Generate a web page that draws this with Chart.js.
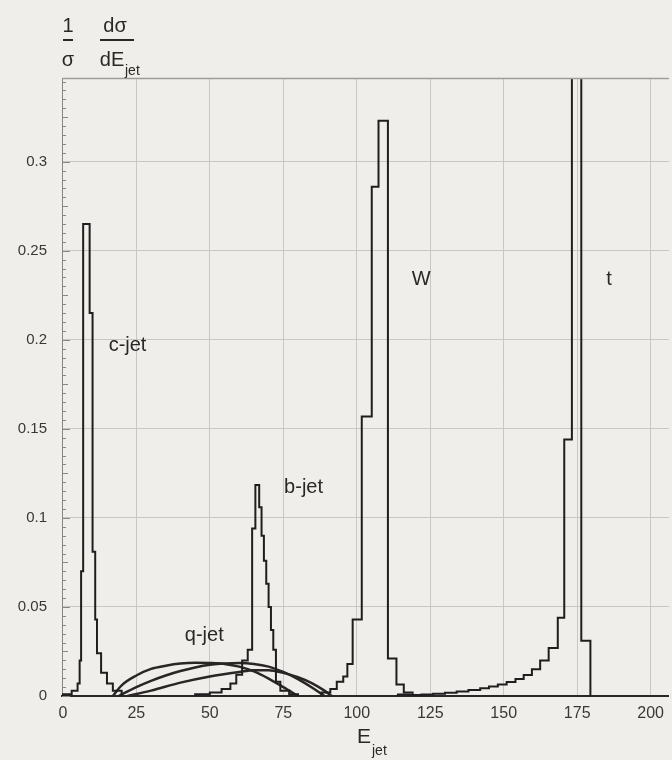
<!DOCTYPE html>
<html>
<head>
<meta charset="utf-8">
<script src="https://cdn.jsdelivr.net/npm/chart.js@4/dist/chart.umd.min.js"></script>
<style>
  body { margin: 0; background: #f0eeeb; }
  canvas { display: block; }
</style>
</head>
<body>
<canvas id="chart" width="672" height="760"></canvas>
<script>
// histogram bins: left edges (last entry closes the last bin) and heights
const cEdges = [0, 3, 5.0, 5.7, 6.2, 6.9, 9.1, 10.1, 11.0, 11.6, 13.0, 15.0, 17.0, 20.0];
const cVals  = [0.001, 0.003, 0.007, 0.020, 0.070, 0.265, 0.215, 0.081, 0.043, 0.024, 0.013, 0.007, 0.003];

const bEdges = [45, 50, 54, 57, 59, 61, 62.9, 64.4, 65.5, 66.8, 67.6, 68.4, 69.2, 70.0, 70.8, 71.6, 72.5, 74, 77, 80];
const bVals  = [0.001, 0.002, 0.004, 0.007, 0.012, 0.020, 0.026, 0.094, 0.1185, 0.106, 0.090, 0.076, 0.063, 0.050, 0.037, 0.026, 0.008, 0.003, 0.001];

const wEdges = [88, 91, 93.2, 95.4, 96.8, 98.6, 101.7, 105.1, 107.4, 110.6, 113.5, 116, 119];
const wVals  = [0.002, 0.004, 0.008, 0.011, 0.018, 0.043, 0.157, 0.286, 0.323, 0.021, 0.0065, 0.002];

const tEdges = [114, 118, 122, 126, 130, 134, 138, 142, 145, 148, 151, 154, 156.8, 159.6, 162.4, 165.3, 168.4, 170.6, 173.2, 176.4, 179.5];
const tVals  = [0.0008, 0.0006, 0.0008, 0.0012, 0.0018, 0.0025, 0.0033, 0.0043, 0.0053, 0.0065, 0.0078, 0.0095, 0.0118, 0.0150, 0.0200, 0.027, 0.044, 0.144, 0.42, 0.031];

// q-jet smooth curves
const q1X = [17, 20, 25, 30, 35, 40, 45, 50, 55, 60, 65, 70, 75, 80];
const q1Y = [0, 0.006, 0.0115, 0.0152, 0.017, 0.0182, 0.0186, 0.0185, 0.018, 0.0165, 0.0138, 0.0098, 0.005, 0];
const q2X = [19, 25, 30, 35, 40, 45, 50, 55, 60, 65, 70, 75, 80, 85, 89];
const q2Y = [0, 0.005, 0.0085, 0.0115, 0.014, 0.016, 0.0175, 0.0183, 0.0185, 0.018, 0.0165, 0.0135, 0.0095, 0.0045, 0];
const q3X = [22, 30, 40, 50, 60, 65, 70, 75, 80, 85, 89, 91.5];
const q3Y = [0, 0.003, 0.0075, 0.011, 0.0135, 0.0145, 0.0145, 0.013, 0.0105, 0.007, 0.003, 0];

const xTicks = [0, 25, 50, 75, 100, 125, 150, 175, 200];
const yTicks = [0, 0.05, 0.1, 0.15, 0.2, 0.25, 0.3];

// label name, E, value
const labels = [
    ['c-jet', 22.0, 0.197],
    ['W', 121.9, 0.234],
    ['t', 185.8, 0.234],
    ['b-jet', 81.9, 0.117],
    ['q-jet', 48.1, 0.034],
];

const ink = '#1e1e1e';
const FONT = '"Liberation Sans", Arial, sans-serif';

function histPoints(edges, vals) {
    let pts = [{x: edges[0], y: 0}];
    vals.forEach((v, i) => pts.push({x: edges[i], y: v}));
    pts.push({x: edges[edges.length - 1], y: 0});
    return pts;
}

function curvePoints(xs, ys) {
    return xs.map((x, i) => ({x: x, y: ys[i]}));
}

function histSet(edges, vals) {
    return {data: histPoints(edges, vals), stepped: true, borderColor: ink, borderWidth: 2, pointRadius: 0};
}

function curveSet(xs, ys) {
    return {data: curvePoints(xs, ys), cubicInterpolationMode: 'monotone', borderColor: '#2a2626', borderWidth: 2.5, pointRadius: 0};
}

const decor = {
    id: 'decor',
    afterDraw(chart) {
        const c = chart.ctx;
        const a = chart.chartArea;
        const xs = chart.scales.x, ys = chart.scales.y;
        c.save();
        // top frame line
        c.strokeStyle = '#a09c9c';
        c.lineWidth = 1.5;
        c.beginPath();
        c.moveTo(a.left, a.top + 0.5);
        c.lineTo(a.right, a.top + 0.5);
        c.stroke();
        // minor ticks on the y axis
        c.strokeStyle = '#8a8686';
        c.lineWidth = 1;
        for (let k = 0; k * 0.005 <= ys.max; k++) {
            const py = Math.round(ys.getPixelForValue(k * 0.005)) + 0.5;
            const len = k % 10 === 0 ? 8 : (k % 5 === 0 ? 6 : 4);
            c.beginPath();
            c.moveTo(a.left, py);
            c.lineTo(a.left + len, py);
            c.stroke();
        }
        // curve labels
        c.fillStyle = '#2a2727';
        c.font = '20px ' + FONT;
        c.textAlign = 'center';
        c.textBaseline = 'middle';
        labels.forEach(l => c.fillText(l[0], xs.getPixelForValue(l[1]), ys.getPixelForValue(l[2])));
        // y title: 1/sigma dsigma/dE_jet
        c.font = '20px ' + FONT;
        c.textAlign = 'center';
        c.textBaseline = 'alphabetic';
        c.fillText('1', 68, 32);
        c.fillText('σ', 68, 66);
        c.fillText('dσ', 115, 32);
        c.fillText('dE', 112, 66);
        c.font = '14px ' + FONT;
        c.textAlign = 'left';
        c.fillText('jet', 125, 75);
        c.lineWidth = 2;
        c.strokeStyle = '#2a2727';
        c.beginPath();
        c.moveTo(63, 40); c.lineTo(73, 40);
        c.moveTo(100, 40); c.lineTo(134, 40);
        c.stroke();
        // x title
        c.font = '21px ' + FONT;
        c.textAlign = 'left';
        c.fillText('E', 357, 743);
        c.font = '14px ' + FONT;
        c.fillText('jet', 372, 755);
        c.restore();
    }
};

new Chart(document.getElementById('chart'), {
    type: 'line',
    data: {
        datasets: [
            histSet(cEdges, cVals),
            histSet(bEdges, bVals),
            histSet(wEdges, wVals),
            histSet(tEdges, tVals),
            curveSet(q1X, q1Y),
            curveSet(q2X, q2Y),
            curveSet(q3X, q3Y),
        ]
    },
    options: {
        responsive: false,
        animation: false,
        layout: {padding: {top: 78, right: 0, left: 0, bottom: 0}},
        plugins: {legend: {display: false}, tooltip: {enabled: false}},
        scales: {
            x: {
                type: 'linear',
                min: -0.3,
                max: 206.2,
                afterBuildTicks: s => { s.ticks = xTicks.map(v => ({value: v})); },
                afterFit: s => { s.height = 64; },
                ticks: {color: '#3a3737', padding: 8, font: {family: FONT, size: 16}},
                grid: {color: ctx => ctx.tick && ctx.tick.value === 0 ? 'rgba(0,0,0,0)' : '#c9c6c3', drawTicks: false},
                border: {color: '#2a2727', width: 2}
            },
            y: {
                min: 0,
                max: 0.347,
                afterBuildTicks: s => { s.ticks = yTicks.map(v => ({value: v})); },
                afterFit: s => { s.width = 62; },
                ticks: {color: '#3a3737', padding: 15, font: {family: FONT, size: 15}, callback: v => String(+v.toFixed(2))},
                grid: {color: '#c9c6c3', drawTicks: false},
                border: {color: '#8a8686', width: 1}
            }
        }
    },
    plugins: [decor]
});
</script>
</body>
</html>
